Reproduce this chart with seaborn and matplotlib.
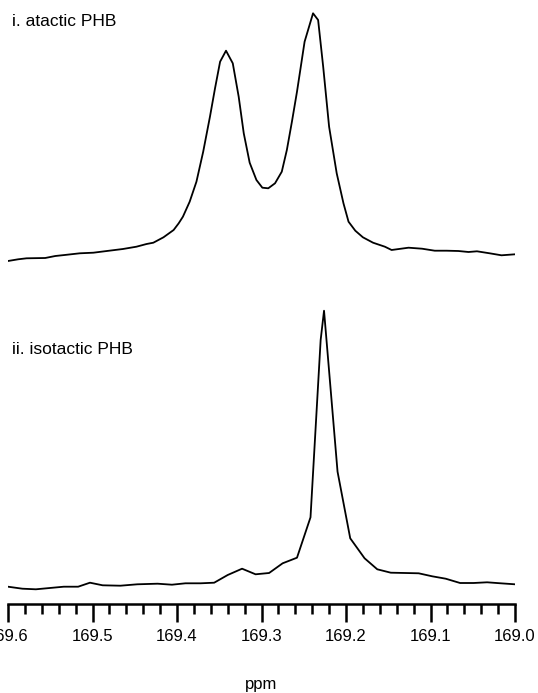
import numpy as np
import pandas as pd
import matplotlib
matplotlib.use("Agg")
import matplotlib.pyplot as plt
import seaborn as sns
from matplotlib.ticker import MultipleLocator, FormatStrFormatter

# ---- data (chemical shift in ppm, intensity in arbitrary units) ----
atactic_ppm = [169.600, 169.588, 169.578, 169.556, 169.544, 169.533, 169.515, 169.499,
               169.483, 169.464, 169.448, 169.436, 169.428, 169.416, 169.404, 169.398,
               169.393, 169.385, 169.377, 169.369, 169.361, 169.355, 169.349, 169.342,
               169.334, 169.327, 169.321, 169.314, 169.306, 169.299, 169.292, 169.284,
               169.276, 169.270, 169.264, 169.258, 169.249, 169.239, 169.233, 169.227,
               169.220, 169.211, 169.203, 169.197, 169.189, 169.180, 169.168, 169.154,
               169.146, 169.140, 169.126, 169.110, 169.095, 169.081, 169.067, 169.055,
               169.045, 169.030, 169.016, 169.000]
atactic_int = [0, 1.7, 2.7, 3, 5, 6, 7.7, 8.3, 10, 12, 14.3, 17, 18.3, 23.7, 31, 37.7,
               44.3, 59.3, 79.3, 109.3, 144.3, 172.7, 199.3, 210.3, 197.7, 164.3, 127.7,
               98.3, 81, 73.3, 72.7, 77.7, 89.3, 111, 139.3, 169.3, 219.3, 247.7, 241,
               194.3, 134.3, 87.7, 57.7, 39.3, 30.3, 23.7, 18.3, 14.3, 11, 11.7, 13.3,
               12.3, 10.3, 10.3, 10, 9, 9.7, 7.7, 5.7, 6.7]

isotactic_ppm = [169.600, 169.583, 169.567, 169.534, 169.517, 169.503, 169.488, 169.467,
                 169.447, 169.423, 169.406, 169.390, 169.372, 169.356, 169.340, 169.323,
                 169.307, 169.291, 169.275, 169.258, 169.242, 169.230, 169.226, 169.210,
                 169.195, 169.178, 169.163, 169.147, 169.130, 169.114, 169.098, 169.082,
                 169.065, 169.049, 169.033, 169.017, 169.000]
isotactic_int = [0, -2, -2.6, 0, 0, 4, 1.4, 1, 2.4, 3, 2, 3.4, 3.4, 4, 11.7, 18, 12.4,
                 13.7, 23.4, 29, 69.4, 246.7, 276, 115, 48.4, 28.4, 17.4, 14, 13.7, 13.4,
                 10.4, 8, 3.7, 3.7, 4.4, 3.4, 2.4]

labels = ["i. atactic PHB", "ii. isotactic PHB"]
x_ticks = [169.6, 169.5, 169.4, 169.3, 169.2, 169.1, 169.0]

# ---- layout constants ----
W, H, DPI = 538, 693, 100
top_offset = 343.0
bottom_offset = 17.3

sns.set_style("white")
plt.rcParams["font.family"] = ["Liberation Sans", "DejaVu Sans"]
plt.rcParams["text.color"] = "black"
plt.rcParams["axes.labelcolor"] = "black"

df = pd.concat([
    pd.DataFrame({"ppm": atactic_ppm,
                  "y": np.array(atactic_int) + top_offset,
                  "sample": labels[0]}),
    pd.DataFrame({"ppm": isotactic_ppm,
                  "y": np.array(isotactic_int) + bottom_offset,
                  "sample": labels[1]}),
])

fig = plt.figure(figsize=(W / DPI, H / DPI), dpi=DPI)
ax = fig.add_axes([8 / W, (H - 604) / H, 507 / W, 604 / H])

sns.lineplot(data=df, x="ppm", y="y", units="sample", estimator=None, sort=False,
             color="black", linewidth=1.3, ax=ax, legend=False)

ax.set_xlim(169.6, 169.0)
ax.set_ylim(0, 604)
ax.set_xticks(x_ticks)
ax.xaxis.set_major_formatter(FormatStrFormatter("%.1f"))
ax.xaxis.set_minor_locator(MultipleLocator(0.02))
ax.tick_params(axis="x", which="major", direction="out", length=13, width=1.8,
               labelsize=12, pad=5, colors="black")
ax.tick_params(axis="x", which="minor", direction="out", length=7, width=1.8,
               colors="black")
ax.tick_params(axis="x", which="both", bottom=True)
ax.set_yticks([])
ax.set_ylabel("")
for s in ["top", "left", "right"]:
    ax.spines[s].set_visible(False)
ax.spines["bottom"].set_linewidth(1.8)
ax.spines["bottom"].set_color("black")
ax.set_xlabel("ppm", fontsize=12, labelpad=23.5, color="black")

x_text = 169.6 - (12 - 8) / 845
ax.text(x_text, 604 - 22, labels[0], fontsize=12.5, color="black",
        ha="left", va="center")
ax.text(x_text, 604 - 349, labels[1], fontsize=12.5, color="black",
        ha="left", va="center")

fig.savefig("out.png", dpi=DPI)
